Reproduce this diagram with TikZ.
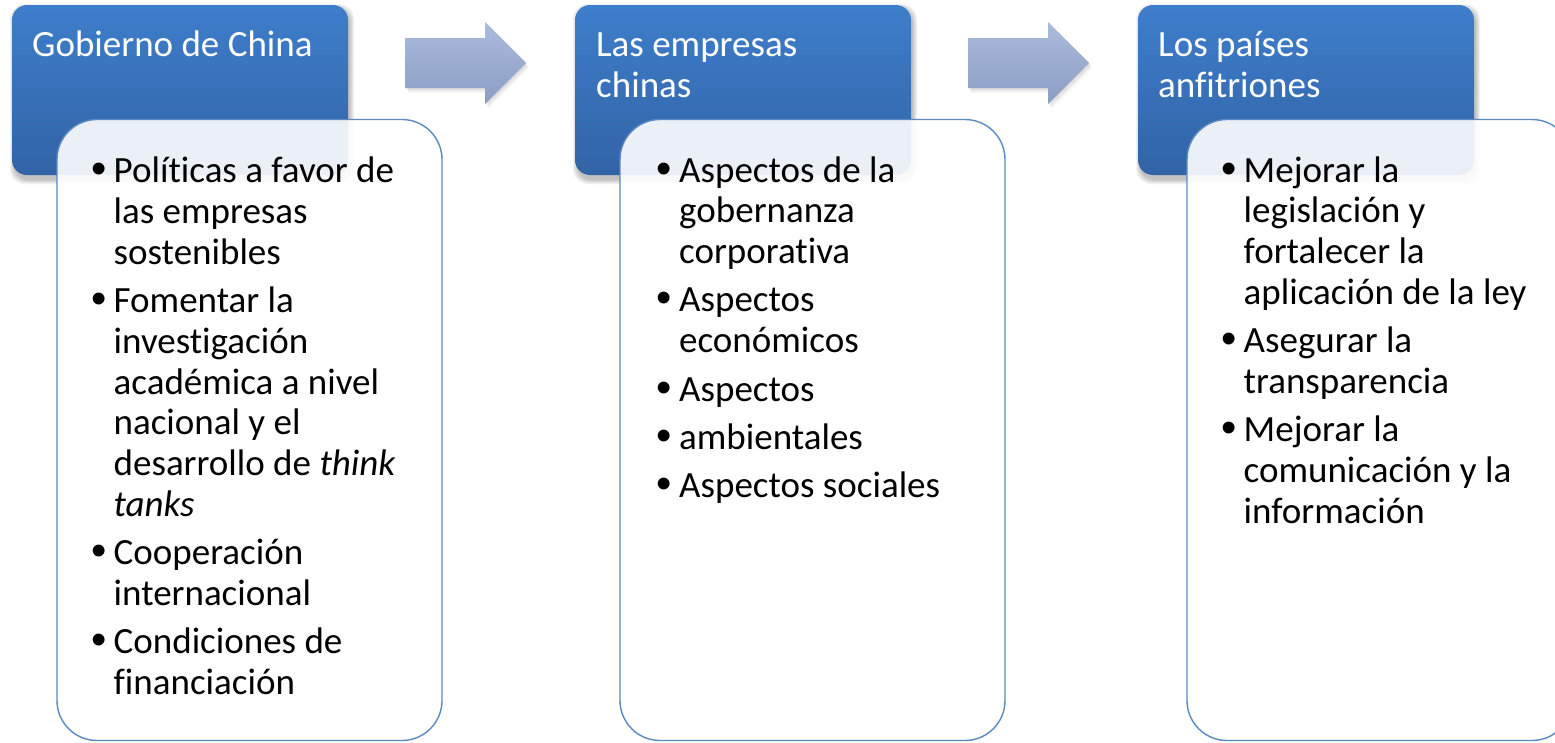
\documentclass[tikz,border=0pt]{standalone}
\usepackage{graphicx}
\usepackage{fontspec}
\setmainfont{Carlito}[Ligatures={NoCommon}]
\newfontfamily\bulfont{Liberation Sans}
\definecolor{btop}{HTML}{3E7ECB}
\definecolor{bbot}{HTML}{3263A6}
\definecolor{atop}{HTML}{AABBDC}
\definecolor{abot}{HTML}{8B9DC4}
\definecolor{wline}{HTML}{5A89C4}
\setlength\parskip{0pt}
\newcommand\fitm{\noindent\hangindent=22.5pt\hangafter=1\makebox[22.5pt][l]{\raisebox{-1pt}{\scalebox{1.18}{\bulfont •}}}}
\newcommand\itm{\par\vspace{7.5pt}\fitm}
\newcommand\bodytext[1]{\parbox[t]{440pt}{\fontsize{37}{40.8}\selectfont #1}}
\newcommand\titletext[1]{\parbox[t]{320pt}{\fontsize{37}{41}\selectfont\raggedright #1}}
\newcommand\softshadow[5]{%
  \foreach \k in {0,1,2,3,4}{%
    \fill[black,opacity=0.05,rounded corners=#5] ({#1+2-\k},{#2+3-\k}) rectangle ({#3+2+\k},{#4+5+\k});}}
\newcommand\arrowpath[1]{%
  (#1+405,38) -- (#1+485,38) -- (#1+485,22) -- (#1+526,63) -- (#1+485,104) -- (#1+485,88) -- (#1+405,88) -- cycle}
\tikzset{
  headbox/.style={minimum width=336pt, minimum height=170pt, inner sep=0pt,
    rounded corners=15pt, top color=btop, bottom color=bbot, draw=none},
  listbox/.style={minimum width=385pt, minimum height=621pt, inner sep=0pt,
    rounded corners=40pt, fill=white, fill opacity=0.9, draw=wline, line width=1.4pt},
  headtxt/.style={anchor=base west, inner sep=0pt, text=white},
  listtxt/.style={anchor=base west, inner sep=0pt, text=black},
}
\begin{document}
\begin{tikzpicture}[x=1pt,y=-1pt]
\useasboundingbox (0,0) rectangle (1555,742);
\clip (0,0) rectangle (1555,742);
\fill[white] (0,0) rectangle (1555,742);

% arrows
\foreach \dx in {0,563}{
  \foreach \k in {1,2,3,4}{
    \fill[black,opacity=0.035,shift={(\k*0.8,\k*1.2)}] \arrowpath{\dx};}
  \shade[top color=atop,bottom color=abot] \arrowpath{\dx};
}

% column 1
\softshadow{12}{5}{348}{175}{15pt}
\node[headbox] (h1) at (180,90) {};
\node[listbox] (l1) at (249.5,430) {};
\node[headtxt] (t1) at (32,56.5) {\titletext{Gobierno de China}};
\node[listtxt] (c1) at (91,182.5) {\bodytext{%
\fitm Políticas a favor de\\ las empresas\\ sostenibles
\itm Fomentar la\\ investigación\\ académica a nivel\\ nacional y el\\ desarrollo de \textit{think}\\ \textit{tanks}
\itm Cooperación\\ internacional
\itm Condiciones de\\ financiación}};

% column 2
\softshadow{575}{5}{911}{175}{15pt}
\node[headbox] (h2) at (743,90) {};
\node[listbox] (l2) at (812.5,430) {};
\node[headtxt] (t2) at (596,56.5) {\titletext{Las empresas\\ chinas}};
\node[listtxt] (c2) at (656.5,182) {\bodytext{%
\fitm Aspectos de la\\ gobernanza\\ corporativa
\itm Aspectos\\ económicos
\itm Aspectos
\itm ambientales
\itm Aspectos sociales}};

% column 3
\softshadow{1138}{5}{1474}{175}{15pt}
\node[headbox] (h3) at (1306,90) {};
\node[listbox] (l3) at (1379.5,430) {};
\node[headtxt] (t3) at (1158,56.5) {\titletext{Los países\\ anfitriones}};
\node[listtxt] (c3) at (1221,182) {\bodytext{%
\fitm Mejorar la\\ legislación y\\ fortalecer la\\ aplicación de la ley
\itm Asegurar la\\ transparencia
\itm Mejorar la\\ comunicación y la\\ información}};
\end{tikzpicture}
\end{document}
